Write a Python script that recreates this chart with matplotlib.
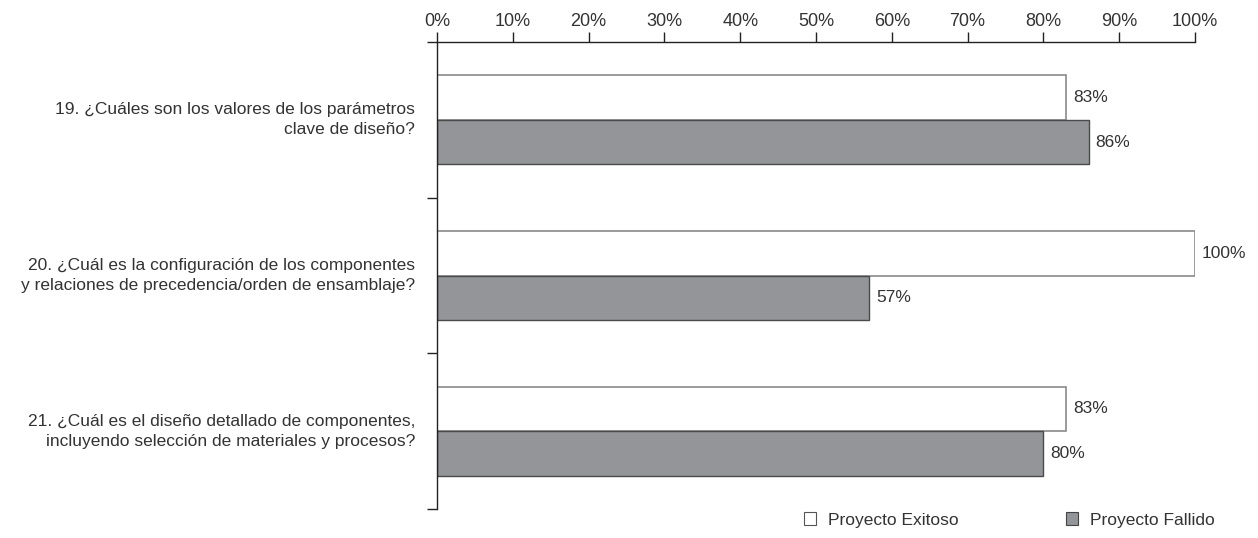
import matplotlib
matplotlib.use("Agg")
import matplotlib.pyplot as plt
from matplotlib.patches import Patch
import numpy as np

plt.rcParams['font.family'] = ['Liberation Sans', 'DejaVu Sans']

categories = [
    "19. ¿Cuáles son los valores de los parámetros\nclave de diseño?",
    "20. ¿Cuál es la configuración de los componentes\ny relaciones de precedencia/orden de ensamblaje?",
    "21. ¿Cuál es el diseño detallado de componentes,\nincluyendo selección de materiales y procesos?",
]
exitoso = [83, 100, 83]
fallido = [86, 57, 80]
series_names = ["Proyecto Exitoso", "Proyecto Fallido"]
xticks = [0, 10, 20, 30, 40, 50, 60, 70, 80, 90, 100]

txt = "#333333"
fig = plt.figure(figsize=(12.58, 5.38), dpi=100)
ax = fig.add_axes([437/1258, 1-509/538, (1195-437)/1258, (509-42)/538])

y = np.arange(len(categories))
h = 0.286
ax.barh(y - h/2, exitoso, height=h, color="white", edgecolor="#8a8a8a", linewidth=1.2, zorder=2)
ax.barh(y + h/2, fallido, height=h, color="#939598", edgecolor="#4a4a4a", linewidth=1.0, zorder=2)

for yi, v in zip(y, exitoso):
    ax.text(v + 0.9, yi - h/2, f"{v}%", va="center", ha="left", fontsize=12.5, color=txt)
for yi, v in zip(y, fallido):
    ax.text(v + 0.9, yi + h/2, f"{v}%", va="center", ha="left", fontsize=12.5, color=txt)

ax.set_xlim(0, 100)
ax.set_ylim(2.5, -0.5)
ax.xaxis.tick_top()
ax.set_xticks(xticks)
ax.set_xticklabels([f"{t}%" for t in xticks], fontsize=13, color=txt)
ax.tick_params(axis='x', direction='out', length=7, width=1, color="#222222", pad=1.5)

ax.set_yticks([-0.5, 0.5, 1.5, 2.5])
ax.set_yticklabels([])
ax.tick_params(axis='y', direction='out', length=7, width=1, color="#222222")
for yi, c in zip(y, categories):
    ax.text(-0.029, yi, c, transform=ax.get_yaxis_transform(), ha="right", va="center",
            fontsize=12.5, color=txt, linespacing=1.4, multialignment="right")

ax.spines['right'].set_visible(False)
ax.spines['bottom'].set_visible(False)
for s in ['top', 'left']:
    ax.spines[s].set_color("#222222")
    ax.spines[s].set_linewidth(1)

handles = [Patch(facecolor="white", edgecolor="#555555", linewidth=0.8),
           Patch(facecolor="#939598", edgecolor="#444444", linewidth=0.8)]
fig.legend(handles, series_names, loc="center left", bbox_to_anchor=(788/1258, 1-520/538),
           ncol=2, frameon=False, handlelength=0.7, handleheight=0.7, handletextpad=0.7,
           columnspacing=6.2, fontsize=12.5, labelcolor=txt)

fig.savefig("out.png", dpi=100)
